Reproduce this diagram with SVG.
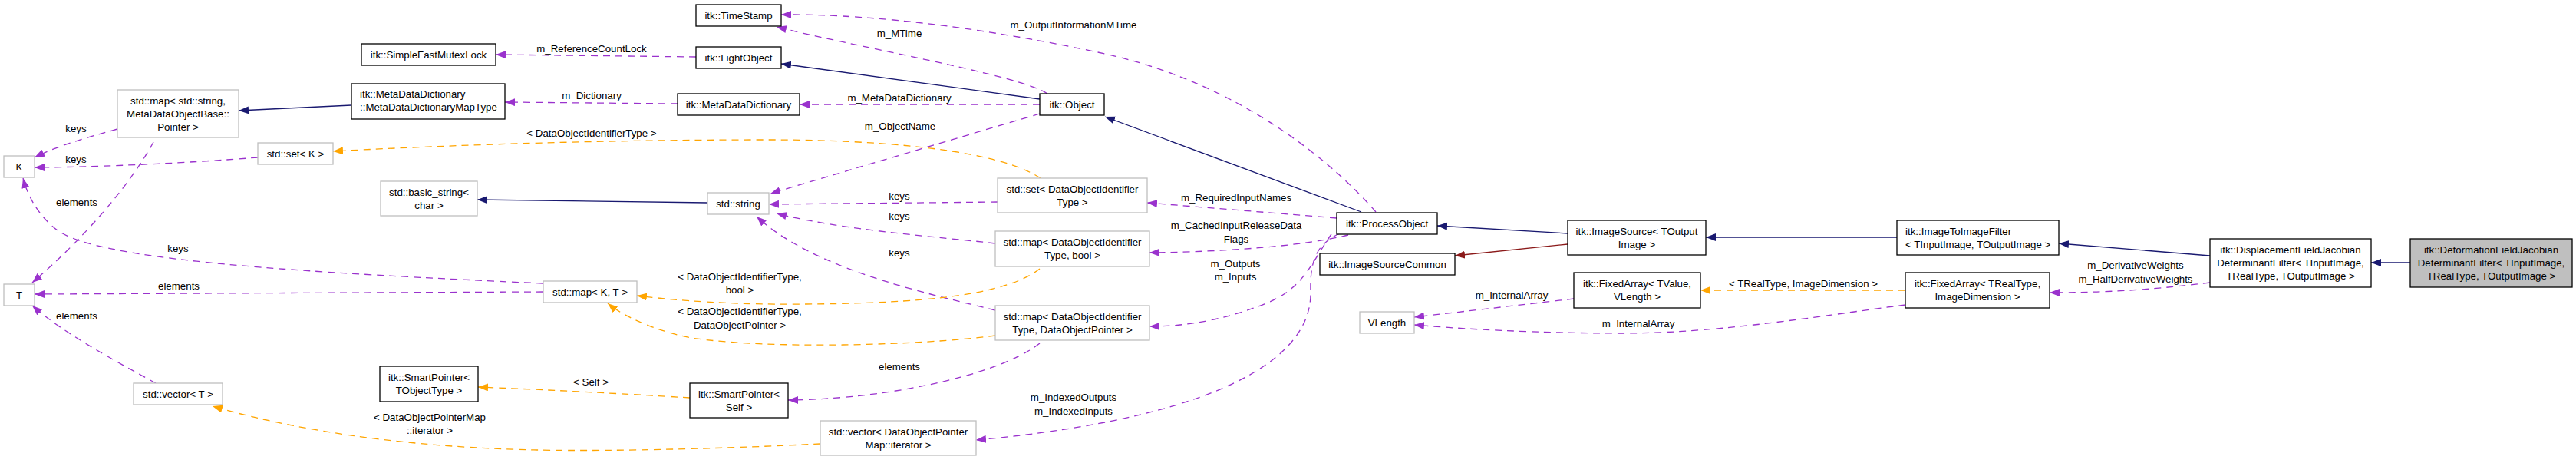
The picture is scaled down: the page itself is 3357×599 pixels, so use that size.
<svg xmlns="http://www.w3.org/2000/svg" width="3357" height="599" viewBox="0 0 3357 599">
<style>
text{font-family:"Liberation Sans",Arial,Helvetica,sans-serif;font-size:13.3px;fill:#000}
.c{text-anchor:middle}
.s{text-anchor:start}
.nb rect{fill:#fff;stroke:#000;stroke-width:1.3}
.ng rect{fill:#fff;stroke:#bfbfbf;stroke-width:1.3}
.nf rect{fill:#bfbfbf;stroke:#000;stroke-width:1.3}
.e{fill:none;stroke-width:1.3}
.inh{stroke:#191970}
.red{stroke:#8b1a1a}
.use{stroke:#9a32cd;stroke-dasharray:9,7}
.tpl{stroke:#ffa500;stroke-dasharray:9,7}
</style>
<defs>
<marker id="aN" markerUnits="userSpaceOnUse" markerWidth="14" markerHeight="11" refX="13" refY="5" orient="auto"><path d="M0,0 L13,5 L0,10 z" fill="#191970"/></marker>
<marker id="aR" markerUnits="userSpaceOnUse" markerWidth="14" markerHeight="11" refX="13" refY="5" orient="auto"><path d="M0,0 L13,5 L0,10 z" fill="#8b1a1a"/></marker>
<marker id="aP" markerUnits="userSpaceOnUse" markerWidth="14" markerHeight="11" refX="13" refY="5" orient="auto"><path d="M0,0 L13,5 L0,10 z" fill="#9a32cd"/></marker>
<marker id="aO" markerUnits="userSpaceOnUse" markerWidth="14" markerHeight="11" refX="13" refY="5" orient="auto"><path d="M0,0 L13,5 L0,10 z" fill="#ffa500"/></marker>
</defs>
<rect width="3357" height="599" fill="#fff"/>
<g id="connectors">
<g id="e-maptype-map"><path class="e inh" d="M458,137 L311,144" marker-end="url(#aN)"/></g>
<g id="e-object-lightobject"><path class="e inh" d="M1355,129 L1018,83" marker-end="url(#aN)"/></g>
<g id="e-string-basicstring"><path class="e inh" d="M922,264 L622,260" marker-end="url(#aN)"/></g>
<g id="e-process-object"><path class="e inh" d="M1774,276 L1440,152" marker-end="url(#aN)"/></g>
<g id="e-imgsrc-process"><path class="e inh" d="M2043,304 L1873,294" marker-end="url(#aN)"/></g>
<g id="e-i2i-imgsrc"><path class="e inh" d="M2472,309 L2223,309" marker-end="url(#aN)"/></g>
<g id="e-disp-i2i"><path class="e inh" d="M2880,333 L2683,317" marker-end="url(#aN)"/></g>
<g id="e-deform-disp"><path class="e inh" d="M3141,342 L3090,342" marker-end="url(#aN)"/></g>
<g id="e-imgsrc-isc"><path class="e red" d="M2043,318 L1896,333" marker-end="url(#aR)"/></g>

<g id="e-light-mutex"><path class="e use" d="M907,74 L646,71" marker-end="url(#aP)"/><text class="c" x="771" y="67.8">m_ReferenceCountLock</text></g>
<g id="e-mdd-maptype"><path class="e use" d="M883,135 L658,133" marker-end="url(#aP)"/><text class="c" x="771" y="128.8">m_Dictionary</text></g>
<g id="e-object-timestamp"><path class="e use" d="M1365,122 C1330,98 1120,62 1012,35" marker-end="url(#aP)"/><text class="c" x="1172" y="47.8">m_MTime</text></g>
<g id="e-object-mdd"><path class="e use" d="M1355,136 L1042,136" marker-end="url(#aP)"/><text class="c" x="1172" y="131.8">m_MetaDataDictionary</text></g>
<g id="e-object-string"><path class="e use" d="M1355,148 L1004,252" marker-end="url(#aP)"/><text class="c" x="1173" y="168.8">m_ObjectName</text></g>
<g id="e-process-timestamp"><path class="e use" d="M1793,276 C1740,215 1620,110 1440,70 C1300,40 1150,18 1018,19" marker-end="url(#aP)"/><text class="c" x="1399" y="36.8">m_OutputInformationMTime</text></g>
<g id="e-process-setdoit"><path class="e use" d="M1742,284 L1495,264" marker-end="url(#aP)"/><text class="c" x="1611" y="261.8">m_RequiredInputNames</text></g>
<g id="e-process-mapbool"><path class="e use" d="M1757,306 C1700,320 1600,328 1498,329" marker-end="url(#aP)"/><text class="c" x="1611" y="297.8">m_CachedInputReleaseData</text><text class="c" x="1611" y="315.8">Flags</text></g>
<g id="e-process-mapdop"><path class="e use" d="M1735,305 C1710,340 1700,375 1650,395 C1600,415 1550,425 1498,425" marker-end="url(#aP)"/><text class="c" x="1610" y="347.8">m_Outputs</text><text class="c" x="1610" y="364.8">m_Inputs</text></g>
<g id="e-process-vecdop"><path class="e use" d="M1746,304 C1715,318 1707,340 1708,380 C1710,470 1580,545 1272,573" marker-end="url(#aP)"/><text class="c" x="1399" y="521.8">m_IndexedOutputs</text><text class="c" x="1399" y="539.8">m_IndexedInputs</text></g>
<g id="e-setdoit-string"><path class="e use" d="M1300,263 L1002,266" marker-end="url(#aP)"/><text class="c" x="1172" y="259.8">keys</text></g>
<g id="e-mapbool-string"><path class="e use" d="M1297,317 C1220,308 1100,300 1012,278" marker-end="url(#aP)"/><text class="c" x="1172" y="285.8">keys</text></g>
<g id="e-mapdop-string"><path class="e use" d="M1297,404 C1200,380 1060,350 986,282" marker-end="url(#aP)"/><text class="c" x="1172" y="333.8">keys</text></g>
<g id="e-mapkt-k"><path class="e use" d="M708,369 C400,355 130,340 75,300 C55,285 38,262 30,232" marker-end="url(#aP)"/><text class="c" x="232" y="327.8">keys</text></g>
<g id="e-mapkt-t"><path class="e use" d="M708,380 L45,383" marker-end="url(#aP)"/><text class="c" x="233" y="376.8">elements</text></g>
<g id="e-mapstr-k"><path class="e use" d="M153,168 C110,180 75,190 45,205" marker-end="url(#aP)"/><text class="c" x="99" y="171.8">keys</text></g>
<g id="e-mapstr-t"><path class="e use" d="M200,185 C170,240 110,310 42,368" marker-end="url(#aP)"/><text class="c" x="100" y="267.8">elements</text></g>
<g id="e-setk-k"><path class="e use" d="M336,205 C250,212 120,218 45,218" marker-end="url(#aP)"/><text class="c" x="99" y="211.8">keys</text></g>
<g id="e-vect-t"><path class="e use" d="M203,499 C150,470 80,432 42,398" marker-end="url(#aP)"/><text class="c" x="100" y="415.8">elements</text></g>
<g id="e-mapdop-spself"><path class="e use" d="M1355,447 C1300,490 1150,520 1027,521" marker-end="url(#aP)"/><text class="c" x="1172" y="481.8">elements</text></g>
<g id="e-fatvalue-vlength"><path class="e use" d="M2051,389 L1843,413" marker-end="url(#aP)"/><text class="c" x="1970" y="388.8">m_InternalArray</text></g>
<g id="e-fatreal-vlength"><path class="e use" d="M2483,397 C2380,410 2250,433 2120,434 C2000,434 1900,428 1843,423" marker-end="url(#aP)"/><text class="c" x="2135" y="425.8">m_InternalArray</text></g>
<g id="e-disp-fatreal"><path class="e use" d="M2880,368 C2800,378 2740,381 2671,381" marker-end="url(#aP)"/><text class="c" x="2783" y="349.8">m_DerivativeWeights</text><text class="c" x="2783" y="367.8">m_HalfDerivativeWeights</text></g>

<g id="e-setdoit-setk"><path class="e tpl" d="M1356,232 C1300,195 1150,182 1000,182 C800,182 600,188 434,197" marker-end="url(#aO)"/><text class="c" x="771" y="177.8">&lt; DataObjectIdentifierType &gt;</text></g>
<g id="e-mapbool-mapkt"><path class="e tpl" d="M1355,350 C1310,385 1200,395 1050,396 C950,397 880,391 830,385" marker-end="url(#aO)"/><text class="c" x="964" y="364.8">&lt; DataObjectIdentifierType,</text><text class="c" x="964" y="381.8">bool &gt;</text></g>
<g id="e-mapdop-mapkt"><path class="e tpl" d="M1297,437 C1200,450 1000,455 901,440 C850,430 810,410 792,395" marker-end="url(#aO)"/><text class="c" x="964" y="409.8">&lt; DataObjectIdentifierType,</text><text class="c" x="964" y="427.8">DataObjectPointer &gt;</text></g>
<g id="e-spself-sptobj"><path class="e tpl" d="M899,518 C800,512 700,507 623,504" marker-end="url(#aO)"/><text class="c" x="770" y="501.8">&lt; Self &gt;</text></g>
<g id="e-vecdop-vect"><path class="e tpl" d="M1069,578 C950,584 800,588 700,586 C550,583 400,565 277,529" marker-end="url(#aO)"/><text class="c" x="560" y="547.8">&lt; DataObjectPointerMap</text><text class="c" x="560" y="564.8">::iterator &gt;</text></g>
<g id="e-fatreal-fatvalue"><path class="e tpl" d="M2483,378 L2216,378" marker-end="url(#aO)"/><text class="c" x="2350" y="373.8">&lt; TRealType, ImageDimension &gt;</text></g>
</g>

<g id="nodes">
<g id="n-K" class="ng"><rect x="5" y="203" width="40" height="28"/><text class="c" x="25" y="221.8">K</text></g>
<g id="n-T" class="ng"><rect x="5" y="370" width="40" height="28"/><text class="c" x="25" y="388.8">T</text></g>
<g id="n-mapstr" class="ng"><rect x="153" y="117" width="158" height="62"/><text class="c" x="232" y="135.8">std::map&lt; std::string,</text><text class="c" x="232" y="152.8">MetaDataObjectBase::</text><text class="c" x="232" y="169.8">Pointer &gt;</text></g>
<g id="n-setk" class="ng"><rect x="336" y="186" width="98" height="28"/><text class="c" x="385" y="204.8">std::set&lt; K &gt;</text></g>
<g id="n-vect" class="ng"><rect x="174" y="499" width="116" height="28"/><text class="c" x="232" y="517.8">std::vector&lt; T &gt;</text></g>
<g id="n-mutex" class="nb"><rect x="471" y="57" width="175" height="28"/><text class="c" x="558.5" y="75.8">itk::SimpleFastMutexLock</text></g>
<g id="n-maptype" class="nb"><rect x="458" y="109" width="200" height="46"/><text class="s" x="469" y="127.3">itk::MetaDataDictionary</text><text class="s" x="469" y="144.3">::MetaDataDictionaryMapType</text></g>
<g id="n-basicstr" class="ng"><rect x="496" y="236" width="126" height="45"/><text class="c" x="559" y="254.8">std::basic_string&lt;</text><text class="c" x="559" y="271.8">char &gt;</text></g>
<g id="n-sptobj" class="nb"><rect x="495" y="477" width="128" height="46"/><text class="c" x="559" y="496.3">itk::SmartPointer&lt;</text><text class="c" x="559" y="513.3">TObjectType &gt;</text></g>
<g id="n-timestamp" class="nb"><rect x="907" y="6" width="111" height="28"/><text class="c" x="962.5" y="24.8">itk::TimeStamp</text></g>
<g id="n-lightobject" class="nb"><rect x="907" y="61" width="111" height="28"/><text class="c" x="962.5" y="79.8">itk::LightObject</text></g>
<g id="n-mdd" class="nb"><rect x="883" y="122" width="159" height="28"/><text class="c" x="962.5" y="140.8">itk::MetaDataDictionary</text></g>
<g id="n-string" class="ng"><rect x="922" y="251" width="80" height="28"/><text class="c" x="962" y="269.8">std::string</text></g>
<g id="n-mapkt" class="ng"><rect x="708" y="366" width="122" height="28"/><text class="c" x="769" y="384.8">std::map&lt; K, T &gt;</text></g>
<g id="n-spself" class="nb"><rect x="899" y="499" width="128" height="45"/><text class="c" x="963" y="517.8">itk::SmartPointer&lt;</text><text class="c" x="963" y="534.8">Self &gt;</text></g>
<g id="n-object" class="nb"><rect x="1355" y="122" width="84" height="28"/><text class="c" x="1397" y="140.8">itk::Object</text></g>
<g id="n-setdoit" class="ng"><rect x="1300" y="232" width="195" height="45"/><text class="c" x="1397.5" y="250.8">std::set&lt; DataObjectIdentifier</text><text class="c" x="1397.5" y="267.8">Type &gt;</text></g>
<g id="n-mapbool" class="ng"><rect x="1297" y="301" width="201" height="46"/><text class="c" x="1397.5" y="320.3">std::map&lt; DataObjectIdentifier</text><text class="c" x="1397.5" y="337.3">Type, bool &gt;</text></g>
<g id="n-mapdop" class="ng"><rect x="1297" y="398" width="201" height="45"/><text class="c" x="1397.5" y="416.8">std::map&lt; DataObjectIdentifier</text><text class="c" x="1397.5" y="433.8">Type, DataObjectPointer &gt;</text></g>
<g id="n-vecdop" class="ng"><rect x="1069" y="548" width="203" height="45"/><text class="c" x="1170.5" y="566.8">std::vector&lt; DataObjectPointer</text><text class="c" x="1170.5" y="583.8">Map::iterator &gt;</text></g>
<g id="n-process" class="nb"><rect x="1742" y="277" width="131" height="28"/><text class="c" x="1807.5" y="295.8">itk::ProcessObject</text></g>
<g id="n-isc" class="nb"><rect x="1720" y="330" width="176" height="28"/><text class="c" x="1808" y="348.8">itk::ImageSourceCommon</text></g>
<g id="n-vlength" class="ng"><rect x="1772" y="406" width="71" height="28"/><text class="c" x="1807.5" y="424.8">VLength</text></g>
<g id="n-imgsrc" class="nb"><rect x="2043" y="287" width="180" height="45"/><text class="c" x="2133" y="305.8">itk::ImageSource&lt; TOutput</text><text class="c" x="2133" y="322.8">Image &gt;</text></g>
<g id="n-fatvalue" class="nb"><rect x="2051" y="355" width="165" height="46"/><text class="c" x="2133.5" y="374.3">itk::FixedArray&lt; TValue,</text><text class="c" x="2133.5" y="391.3">VLength &gt;</text></g>
<g id="n-i2i" class="nb"><rect x="2472" y="287" width="211" height="45"/><text class="s" x="2483" y="305.8">itk::ImageToImageFilter</text><text class="s" x="2483" y="322.8">&lt; TInputImage, TOutputImage &gt;</text></g>
<g id="n-fatreal" class="nb"><rect x="2483" y="355" width="188" height="46"/><text class="c" x="2577" y="374.3">itk::FixedArray&lt; TRealType,</text><text class="c" x="2577" y="391.3">ImageDimension &gt;</text></g>
<g id="n-disp" class="nb"><rect x="2880" y="311" width="210" height="63"/><text class="c" x="2985" y="330.3">itk::DisplacementFieldJacobian</text><text class="c" x="2985" y="347.3">DeterminantFilter&lt; TInputImage,</text><text class="c" x="2985" y="364.3">TRealType, TOutputImage &gt;</text></g>
<g id="n-deform" class="nf"><rect x="3141" y="311" width="211" height="63"/><text class="c" x="3246.5" y="330.3">itk::DeformationFieldJacobian</text><text class="c" x="3246.5" y="347.3">DeterminantFilter&lt; TInputImage,</text><text class="c" x="3246.5" y="364.3">TRealType, TOutputImage &gt;</text></g>
</g>
</svg>
